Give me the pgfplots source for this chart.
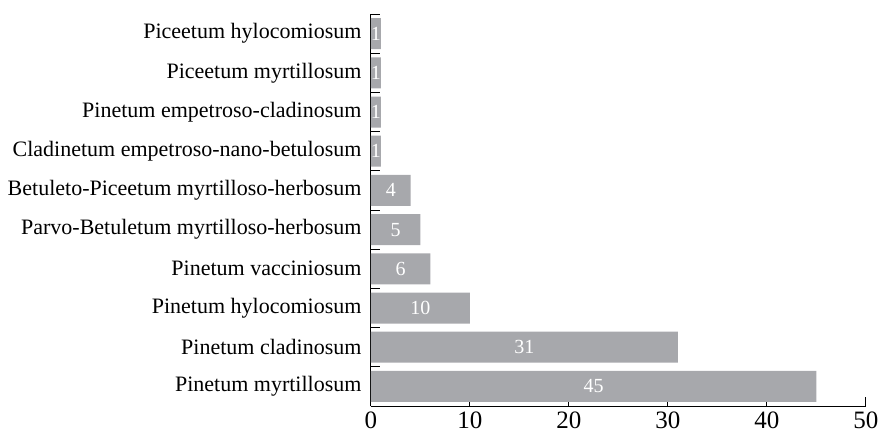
\documentclass[border=0pt]{standalone}
\usepackage{fontspec}
\setmainfont{Liberation Serif}
\usepackage{pgfplots}
\usepackage{pgfplotstable}
\pgfplotsset{compat=1.18}
\definecolor{bargray}{RGB}{167,168,172}
\pgfplotstableread{
y v
0 45
1 31
2 10
3 6
4 5
5 4
6 1
7 1
8 1
9 1
}\datatable
\begin{document}
\begin{tikzpicture}
\begin{axis}[
  at={(0,0)}, anchor=south west,
  scale only axis, width=495bp, height=392bp,
  xmin=0, xmax=50, ymin=-0.5, ymax=9.5,
  axis x line*=bottom, axis y line*=left,
  axis line style={line width=1bp, -},
  xtick={0,10,...,50},
  ytick={0,...,9},
  yticklabels={Pinetum myrtillosum, Pinetum cladinosum, Pinetum hylocomiosum, Pinetum vacciniosum, Parvo-Betuletum myrtilloso-herbosum, Betuleto-Piceetum myrtilloso-herbosum, Cladinetum empetroso-nano-betulosum, Pinetum empetroso-cladinosum, Piceetum myrtillosum, Piceetum hylocomiosum},
  minor ytick={-0.5,0.5,...,9.5},
  tick align=inside,
  major tick length=9bp, minor tick length=9bp,
  major y tick style={draw=none},
  minor y tick style={line width=1bp, black},
  xtick style={line width=1bp, black},
  xticklabel style={font=\fontsize{25bp}{30bp}\selectfont, yshift=-2bp},
  yticklabel style={font=\fontsize{22bp}{26bp}\selectfont, xshift=-6bp},
  /pgf/number format/assume math mode=true,
  clip=false,
]
\addplot[xbar, bar width=31bp, fill=bargray, draw=none] table[x=v, y=y]{\datatable};
\addplot[draw=none, mark=none, nodes near coords, point meta=explicit,
  every node near coord/.append style={anchor=center, text=white, inner sep=0pt, font=\fontsize{20bp}{24bp}\selectfont}]
  table[x expr=\thisrow{v}/2, y=y, meta=v]{\datatable};
\end{axis}
\pgfresetboundingbox
\path[use as bounding box] (-371bp,-29bp) rectangle (509bp,406bp);
\end{tikzpicture}
\end{document}
